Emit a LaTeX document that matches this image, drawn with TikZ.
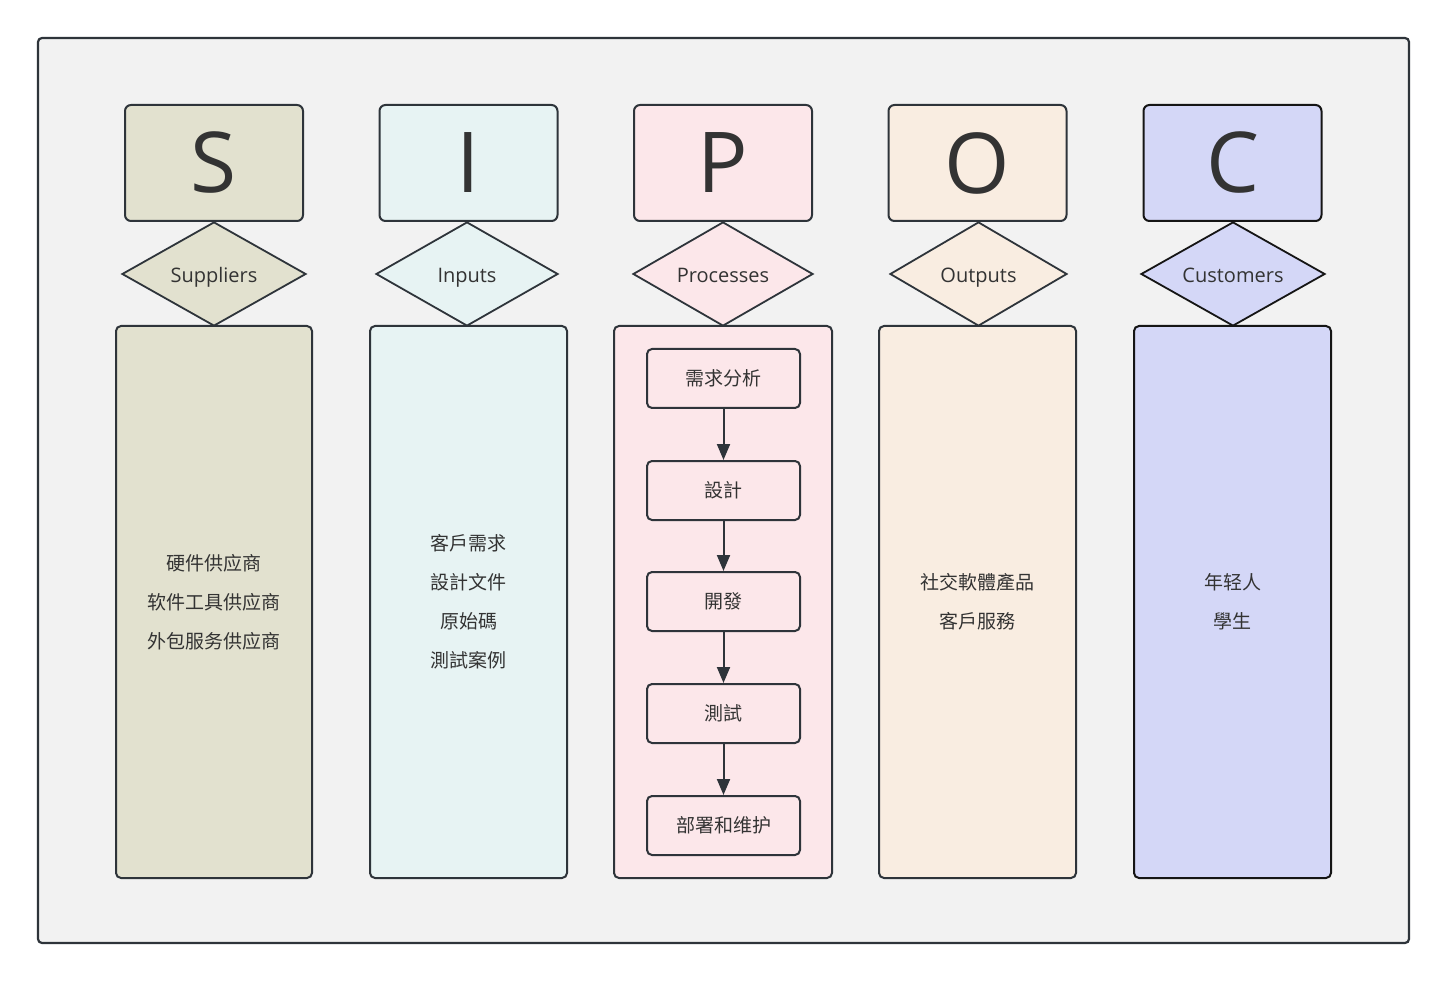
\documentclass[tikz,border=0pt]{standalone}
\usepackage{fontspec}
\setmainfont{Open Sans}
\newfontfamily\cjk{Noto Sans CJK SC}
\usetikzlibrary{shapes.geometric,arrows.meta}
\definecolor{edge}{HTML}{2E343A}
\definecolor{txt}{HTML}{333333}
\definecolor{bgfill}{HTML}{F2F2F2}
\definecolor{sfill}{HTML}{E2E1CF}
\definecolor{ifill}{HTML}{E7F3F3}
\definecolor{pfill}{HTML}{FCE7EA}
\definecolor{ofill}{HTML}{F9EDE1}
\definecolor{cfill}{HTML}{D4D7F7}
\definecolor{cedge}{HTML}{151515}
\tikzset{
  framebox/.style={draw=edge, line width=2.2pt, fill=bgfill, rounded corners=4pt, minimum width=1371pt, minimum height=905pt, inner sep=0pt},
  headbox/.style={draw=edge, line width=2pt, rounded corners=6pt, minimum width=178pt, minimum height=116pt, inner sep=0pt, text=txt, font=\fontsize{84}{90}\selectfont},
  tagshape/.style={diamond, draw=edge, line width=1.8pt, minimum width=184pt, minimum height=104pt, inner sep=0pt},
  tagtext/.style={text=txt, inner sep=0pt, text height=14.3pt, text depth=0pt, yshift=-1pt, font=\fontsize{20}{24}\selectfont},
  bodybox/.style={draw=edge, line width=2pt, rounded corners=5pt, minimum height=552pt, inner sep=0pt, text=txt, align=center, font=\cjk\fontsize{19}{39}\selectfont},
  stepbox/.style={draw=edge, line width=2pt, rounded corners=5pt, fill=pfill, minimum width=153pt, minimum height=59pt, inner sep=0pt, text=txt, font=\cjk\fontsize{19}{24}\selectfont},
  arr/.style={draw=edge, line width=2pt, -{Triangle[length=16pt,width=13pt]}}
}
\begin{document}
\begin{tikzpicture}[x=1pt,y=-1pt]
\useasboundingbox (0,0) rectangle (1446,981);
\fill[white] (0,0) rectangle (1446,981);
\node[framebox] (frame) at (723.5,490.5) {};

% Suppliers
\node[bodybox, fill=sfill, minimum width=196pt] (sbody) at (214,602) {硬件供应商\\软件工具供应商\\外包服务供应商};
\node[headbox, fill=sfill] (shead) at (214,163) {S};
\node[tagshape, fill=sfill, label={[tagtext]center:Suppliers}] (stag) at (214,274) {};

% Inputs
\node[bodybox, fill=ifill, minimum width=197pt] (ibody) at (468.5,602) {客戶需求\\設計文件\\原始碼\\測試案例};
\node[headbox, fill=ifill] (ihead) at (468.5,163) {I};
\node[tagshape, fill=ifill, minimum width=182pt, label={[tagtext]center:Inputs}] (itag) at (467,274) {};

% Processes
\node[bodybox, fill=pfill, minimum width=218pt] (pbody) at (723,602) {};
\node[headbox, fill=pfill] (phead) at (723,163) {P};
\node[tagshape, fill=pfill, minimum width=180pt, label={[tagtext]center:Processes}] (ptag) at (723,274) {};
\node[stepbox] (p1) at (723.5,378.5) {需求分析};
\node[stepbox] (p2) at (723.5,490.5) {設計};
\node[stepbox] (p3) at (723.5,601.5) {開發};
\node[stepbox] (p4) at (723.5,713.5) {測試};
\node[stepbox] (p5) at (723.5,825.5) {部署和维护};
\draw[arr] (p1) -- (p2);
\draw[arr] (p2) -- (p3);
\draw[arr] (p3) -- (p4);
\draw[arr] (p4) -- (p5);

% Outputs
\node[bodybox, fill=ofill, minimum width=197pt] (obody) at (977.5,602) {社交軟體產品\\客戶服務};
\node[headbox, fill=ofill] (ohead) at (977.5,163) {O};
\node[tagshape, fill=ofill, minimum width=177pt, label={[tagtext]center:Outputs}] (otag) at (978.5,274) {};

% Customers
\node[bodybox, fill=cfill, draw=cedge, minimum width=197pt] (cbody) at (1232.5,602) {年轻人\\學生};
\node[headbox, fill=cfill, draw=cedge] (chead) at (1232.5,163) {C};
\node[tagshape, fill=cfill, draw=cedge, label={[tagtext]center:Customers}] (ctag) at (1233,274) {};
\end{tikzpicture}
\end{document}
